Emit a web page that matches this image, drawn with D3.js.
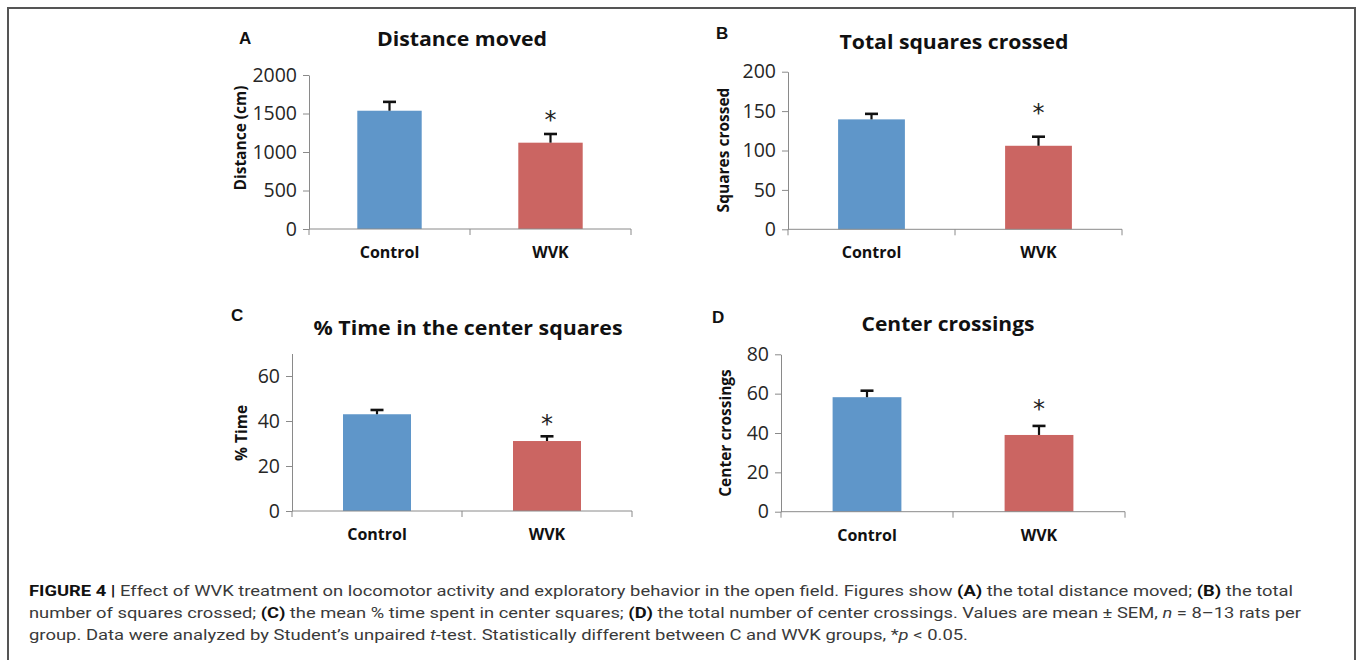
<!DOCTYPE html>
<html>
<head>
<meta charset="utf-8">
<script src="https://cdn.jsdelivr.net/npm/d3@7"></script>
<style>
  body { margin: 0; background: #fff; }
  svg { display: block; }
</style>
</head>
<body>
<div id="chart"></div>
<script>
// Data (mean, SEM)
const groups = ["Control", "WVK"];
const distanceMean = [1536, 1121];
const distanceSem = [115, 113];
const squaresMean = [139.5, 106];
const squaresSem = [7, 11.5];
const timeMean = [43, 31.1];
const timeSem = [1.9, 2.1];
const crossingsMean = [58.2, 39];
const crossingsSem = [3.3, 4.6];
const significant = [false, true];

// Tick labels
const distanceTicks = [0, 500, 1000, 1500, 2000];
const squaresTicks = [0, 50, 100, 150, 200];
const timeTicks = [0, 20, 40, 60];
const crossingsTicks = [0, 20, 40, 60, 80];

const colors = ["#5f96c9", "#cb6562"];
const axisColor = "#8a8a8a";

const width = 1357;
const height = 660;

// Panel layout
const panels = [
  { letter: "A", title: "Distance moved", yLabel: "Distance (cm)",
    mean: distanceMean, sem: distanceSem, ticks: distanceTicks, yMax: 2000, star: 1510,
    x0: 309, step: 161, y0: 229, yTop: 75,
    letterPos: [239, 44], titlePos: [462, 46], titleW: 170, yLabelPos: [240, 138] },
  { letter: "B", title: "Total squares crossed", yLabel: "Squares crossed",
    mean: squaresMean, sem: squaresSem, ticks: squaresTicks, yMax: 200, star: 156.5,
    x0: 788, step: 167, y0: 229.3, yTop: 71.7,
    letterPos: [716, 39], titlePos: [954, 49], titleW: 229, yLabelPos: [723, 150] },
  { letter: "C", title: "% Time in the center squares", yLabel: "% Time",
    mean: timeMean, sem: timeSem, ticks: timeTicks, yMax: 70, star: 41.9,
    x0: 292, step: 170, y0: 511, yTop: 353.5,
    letterPos: [231, 321], titlePos: [468, 335], titleW: 309, yLabelPos: [241, 433] },
  { letter: "D", title: "Center crossings", yLabel: "Center crossings",
    mean: crossingsMean, sem: crossingsSem, ticks: crossingsTicks, yMax: 80, star: 55.9,
    x0: 781, step: 172, y0: 511.7, yTop: 354.3,
    letterPos: [712, 323], titlePos: [948, 331], titleW: 173, yLabelPos: [725, 433] },
];

const svg = d3.select("#chart")
  .append("svg")
  .attr("width", width)
  .attr("height", height);

// frame around the figure
svg.append("path")
  .attr("d", `M8,${height} V8 H1355 V${height}`)
  .attr("fill", "none")
  .attr("stroke", "#555")
  .attr("stroke-width", 2);

function drawPanel(p) {
  const g = svg.append("g");

  const yScale = d3.scaleLinear().domain([0, p.yMax]).range([p.y0, p.yTop]);
  const xScale = d3.scaleBand()
    .domain(groups)
    .range([p.x0, p.x0 + 2 * p.step])
    .paddingInner(0.6)
    .paddingOuter(0.3);

  const rows = groups.map((name, i) => ({ name, mean: p.mean[i], sem: p.sem[i], sig: significant[i], i }));

  // bars
  g.selectAll("rect")
    .data(rows)
    .join("rect")
    .attr("x", d => xScale(d.name))
    .attr("y", d => yScale(d.mean))
    .attr("width", xScale.bandwidth())
    .attr("height", d => yScale(0) - yScale(d.mean))
    .attr("fill", d => colors[d.i]);

  // y axis
  const yAxis = g.append("g")
    .attr("transform", `translate(${p.x0},0)`)
    .call(d3.axisLeft(yScale)
      .tickValues(p.ticks)
      .tickFormat(d3.format("d"))
      .tickSize(6).tickSizeOuter(0).tickPadding(6));
  yAxis.attr("font-family", "'Open Sans', sans-serif").attr("font-size", 19.5);
  yAxis.selectAll("path, line").attr("stroke", axisColor);
  yAxis.selectAll("text").attr("fill", "#262626");

  // x axis with tick marks between categories
  const [xa, xb] = xScale.range();
  g.append("line")
    .attr("x1", xa).attr("x2", xb)
    .attr("y1", yScale(0)).attr("y2", yScale(0))
    .attr("stroke", axisColor);
  g.selectAll(".xtick")
    .data(d3.range(groups.length + 1))
    .join("line")
    .attr("class", "xtick")
    .attr("x1", i => xa + i * xScale.step())
    .attr("x2", i => xa + i * xScale.step())
    .attr("y1", yScale(0))
    .attr("y2", yScale(0) + 6)
    .attr("stroke", axisColor);

  // error bars (upper half only)
  const err = g.append("g").attr("stroke", "#111");
  err.selectAll(".stem")
    .data(rows)
    .join("line")
    .attr("class", "stem")
    .attr("x1", d => xScale(d.name) + xScale.bandwidth() / 2)
    .attr("x2", d => xScale(d.name) + xScale.bandwidth() / 2)
    .attr("y1", d => yScale(d.mean))
    .attr("y2", d => yScale(d.mean + d.sem))
    .attr("stroke-width", 2.2);
  err.selectAll(".cap")
    .data(rows)
    .join("line")
    .attr("class", "cap")
    .attr("x1", d => xScale(d.name) + xScale.bandwidth() / 2 - 6.5)
    .attr("x2", d => xScale(d.name) + xScale.bandwidth() / 2 + 6.5)
    .attr("y1", d => yScale(d.mean + d.sem))
    .attr("y2", d => yScale(d.mean + d.sem))
    .attr("stroke-width", 2.6);

  // significance star
  g.selectAll(".star")
    .data(rows.filter(d => d.sig))
    .join("text")
    .attr("class", "star")
    .attr("x", d => xScale(d.name) + xScale.bandwidth() / 2)
    .attr("y", yScale(p.star) + 15)
    .attr("text-anchor", "middle")
    .attr("font-family", "'DejaVu Sans', sans-serif")
    .attr("font-size", 24)
    .attr("fill", "#222")
    .text("*");

  // category labels
  g.selectAll(".cat")
    .data(rows)
    .join("text")
    .attr("class", "cat")
    .attr("x", d => xScale(d.name) + xScale.bandwidth() / 2)
    .attr("y", yScale(0) + 29)
    .attr("text-anchor", "middle")
    .attr("font-family", "'Open Sans', sans-serif")
    .attr("font-weight", "bold")
    .attr("font-size", 16)
    .attr("fill", "#111")
    .text(d => d.name);

  // y axis title
  g.append("text")
    .attr("transform", `translate(${p.yLabelPos[0] + 5.5},${p.yLabelPos[1]}) rotate(-90)`)
    .attr("text-anchor", "middle")
    .attr("font-family", "'Open Sans', sans-serif")
    .attr("font-weight", "bold")
    .attr("font-size", 15.5)
    .attr("fill", "#111")
    .text(p.yLabel);

  // panel title
  g.append("text")
    .attr("x", p.titlePos[0])
    .attr("y", p.titlePos[1])
    .attr("text-anchor", "middle")
    .attr("font-family", "'Open Sans', sans-serif")
    .attr("font-weight", "bold")
    .attr("font-size", 20)
    .attr("textLength", p.titleW)
    .attr("lengthAdjust", "spacingAndGlyphs")
    .attr("fill", "#111")
    .text(p.title);

  // panel letter
  g.append("text")
    .attr("x", p.letterPos[0])
    .attr("y", p.letterPos[1])
    .attr("font-family", "'Liberation Sans', Arial, sans-serif")
    .attr("font-weight", "bold")
    .attr("font-size", 17)
    .attr("fill", "#111")
    .text(p.letter);
}

panels.forEach(drawPanel);

// caption
const captionLines = [
  { y: 596, w: 1264, parts: [
    ["b", "FIGURE 4 | "],
    ["", "Effect of WVK treatment on locomotor activity and exploratory behavior in the open field. Figures show "],
    ["b", "(A)"], ["", " the total distance moved; "], ["b", "(B)"], ["", " the total"] ] },
  { y: 618, w: 1272, parts: [
    ["", "number of squares crossed; "], ["b", "(C)"], ["", " the mean % time spent in center squares; "],
    ["b", "(D)"], ["", " the total number of center crossings. Values are mean \u00b1 SEM, "],
    ["i", "n"], ["", " = 8\u201313 rats per"] ] },
  { y: 640, w: 939, parts: [
    ["", "group. Data were analyzed by Student\u2019s unpaired "], ["i", "t"],
    ["", "-test. Statistically different between C and WVK groups, *"], ["i", "p"], ["", " < 0.05."] ] },
];

captionLines.forEach(line => {
  const t = svg.append("text")
    .attr("x", 29)
    .attr("y", line.y)
    .attr("font-family", "'Liberation Sans Narrow', 'Roboto', 'Liberation Sans', sans-serif")
    .attr("font-size", 15.5)
    .attr("fill", "#3a3a3a")
    .attr("textLength", line.w)
    .attr("lengthAdjust", "spacingAndGlyphs")
    .style("white-space", "pre");
  line.parts.forEach(([style, txt]) => {
    const s = t.append("tspan").text(txt);
    if (style === "b") s.attr("font-weight", "bold").attr("fill", "#111");
    if (style === "i") s.attr("font-style", "italic");
  });
});
</script>
</body>
</html>
